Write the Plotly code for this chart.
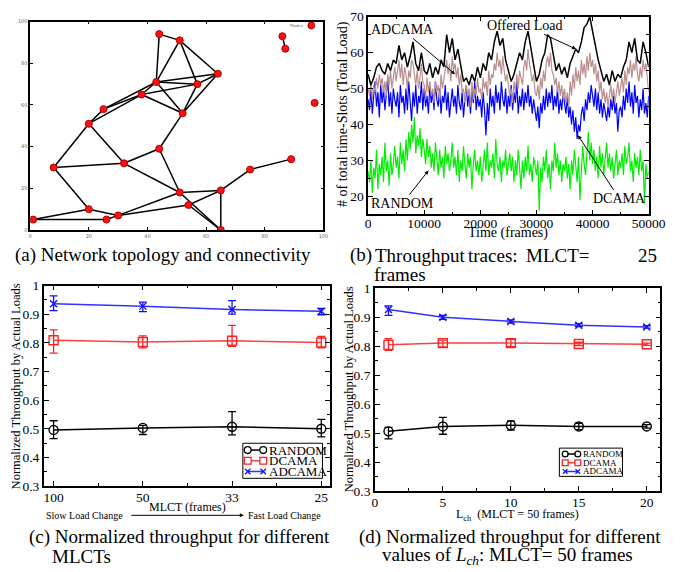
import plotly.graph_objects as go

# ---------------- (a) network topology ----------------
node_x = [1, 20, 26, 30, 8, 20, 25, 32, 38, 43, 44, 51, 57, 64, 52, 44, 51, 54, 65, 65, 75, 89, 86, 87, 97]
node_y = [5, 10, 5, 7, 30, 51, 58, 32, 65, 71, 94, 91, 70, 75, 56, 39, 18, 12, 19, 0, 29, 34, 93, 87, 61]
edges = [(0, 1), (0, 2), (1, 3), (2, 3), (1, 4), (4, 5), (4, 7), (5, 7), (5, 6), (5, 8), (6, 8), (6, 9),
         (7, 15), (7, 16), (15, 14), (15, 16), (8, 9), (8, 12), (8, 14), (9, 10), (9, 11), (9, 12), (9, 13),
         (9, 14), (10, 11), (11, 12), (11, 13), (12, 13), (12, 14), (13, 14), (16, 18), (16, 19), (17, 19),
         (3, 16), (3, 17), (17, 18), (18, 19), (18, 20), (20, 21), (22, 23)]

# ---------------- (b) throughput traces ----------------
time_black = [i * 500 for i in range(101)]
offered_load = [54, 51, 53, 56, 57, 55, 54, 57, 55, 58, 57, 62, 58, 60, 56, 59, 63, 57, 55, 60,
                55, 54, 57, 53, 56, 54, 58, 56, 65, 60, 64, 58, 61, 56, 52, 53, 51, 54, 52, 56,
                53, 57, 55, 60, 58, 63, 66, 62, 64, 58, 55, 52, 54, 57, 60, 58, 63, 66, 61, 56,
                52, 54, 58, 60, 65, 64, 59, 55, 57, 54, 56, 53, 57, 59, 61, 60, 63, 67, 68, 70,
                66, 61, 58, 55, 52, 54, 51, 55, 52, 54, 53, 56, 58, 63, 60, 64, 58, 57, 63, 60, 56]
time_fine = [i * 250 for i in range(201)]
adcama_tr = [50, 48, 52, 47, 51, 49, 53, 50, 54, 51, 53, 49, 52, 48, 54, 51, 55, 50, 53, 56,
             52, 55, 58, 53, 57, 51, 56, 54, 50, 55, 53, 58, 57, 54, 51, 55, 50, 53, 57, 52,
             51, 47, 53, 49, 52, 48, 50, 46, 52, 49, 51, 47, 54, 50, 53, 55, 58, 54, 57, 52,
             59, 55, 57, 53, 56, 51, 54, 49, 50, 46, 51, 48, 50, 45, 52, 47, 50, 48, 53, 49,
             50, 47, 53, 50, 52, 48, 55, 51, 54, 53, 57, 55, 60, 56, 58, 54, 59, 55, 52, 54,
             51, 48, 50, 46, 52, 49, 54, 50, 55, 53, 51, 56, 58, 55, 61, 57, 55, 52, 54, 49,
             48, 51, 47, 53, 50, 55, 52, 57, 59, 56, 60, 55, 54, 51, 53, 49, 52, 48, 51, 47,
             50, 46, 49, 45, 52, 48, 54, 50, 56, 52, 55, 51, 58, 54, 57, 53, 59, 55, 60, 56,
             58, 54, 57, 52, 55, 49, 52, 47, 50, 46, 49, 45, 48, 51, 47, 50, 46, 49, 52, 48,
             50, 53, 49, 55, 51, 56, 54, 58, 53, 57, 55, 59, 54, 52, 56, 53, 58, 55, 57, 52, 49]
dcama_tr = [47, 44, 50, 43, 48, 52, 45, 49, 42, 51, 46, 50, 44, 48, 53, 45, 49, 43, 50, 47,
            45, 49, 42, 51, 46, 48, 43, 50, 44, 52, 47, 41, 49, 45, 51, 43, 48, 46, 52, 44,
            50, 45, 48, 43, 51, 46, 49, 44, 52, 47, 45, 50, 43, 48, 46, 51, 44, 49, 42, 47,
            50, 45, 48, 43, 51, 46, 44, 49, 42, 47, 51, 45, 49, 43, 50, 46, 52, 44, 48, 45,
            47, 42, 49, 44, 37, 46, 41, 50, 45, 48, 43, 51, 46, 49, 44, 52, 47, 45, 50, 43,
            48, 45, 51, 44, 49, 46, 52, 43, 48, 45, 50, 44, 49, 46, 51, 45, 48, 43, 47, 44,
            41, 45, 39, 46, 43, 48, 44, 50, 45, 49, 46, 51, 44, 48, 45, 50, 43, 47, 44, 49,
            46, 43, 48, 42, 45, 40, 44, 38, 42, 36, 40, 38, 43, 45, 41, 47, 44, 49, 46, 51,
            48, 45, 50, 44, 49, 43, 47, 42, 46, 44, 41, 45, 42, 47, 44, 48, 43, 46, 38, 44,
            45, 42, 48, 44, 50, 46, 52, 45, 49, 43, 51, 46, 48, 42, 47, 44, 50, 43, 46, 42, 48]
random_tr = [27, 24, 30, 21, 28, 25, 33, 22, 29, 26, 31, 24, 35, 27, 30, 23, 32, 26, 29, 34,
             28, 31, 25, 35, 29, 33, 27, 36, 30, 38, 33, 40, 35, 42, 32, 37, 34, 39, 31, 36,
             33, 29, 36, 31, 34, 28, 32, 27, 35, 30, 26, 33, 28, 31, 25, 34, 29, 32, 27, 30,
             35, 28, 31, 26, 33, 24, 30, 27, 34, 29, 25, 32, 28, 31, 22, 29, 33, 27, 30, 26,
             31, 24, 29, 33, 27, 35, 26, 30, 28, 32, 25, 36, 29, 27, 31, 24, 30, 28, 33, 26,
             29, 32, 27, 31, 24, 30, 26, 33, 28, 22, 30, 25, 31, 27, 34, 26, 29, 24, 31, 28,
             26, 30, 16, 28, 24, 31, 27, 33, 25, 29, 22, 30, 27, 35, 28, 32, 26, 30, 24, 29,
             27, 31, 25, 29, 22, 30, 26, 33, 28, 24, 31, 19, 27, 34, 29, 26, 32, 38, 30, 35,
             29, 33, 27, 31, 25, 34, 28, 32, 26, 30, 35, 28, 32, 27, 31, 25, 29, 33, 26, 30,
             28, 32, 26, 34, 29, 31, 35, 27, 30, 24, 32, 28, 31, 26, 33, 27, 30, 18, 29, 25, 27]

# ---------------- (c) MLCT ----------------
mlct_labels = ["100", "50", "33", "25"]
mlct_pos = [1, 2, 3, 4]
c_random = [0.496, 0.503, 0.507, 0.500]
c_random_hi = [0.528, 0.512, 0.560, 0.533]
c_random_lo = [0.466, 0.480, 0.479, 0.472]
c_dcama = [0.809, 0.803, 0.807, 0.801]
c_dcama_hi = [0.845, 0.824, 0.861, 0.822]
c_dcama_lo = [0.764, 0.782, 0.788, 0.782]
c_adcama = [0.936, 0.928, 0.916, 0.910]
c_adcama_hi = [0.964, 0.942, 0.947, 0.920]
c_adcama_lo = [0.912, 0.909, 0.900, 0.898]

# ---------------- (d) Lch ----------------
lch = [1, 5, 10, 15, 20]
d_random = [0.506, 0.523, 0.527, 0.523, 0.523]
d_random_hi = [0.520, 0.554, 0.542, 0.534, 0.529]
d_random_lo = [0.480, 0.496, 0.510, 0.512, 0.517]
d_dcama = [0.805, 0.811, 0.811, 0.808, 0.807]
d_dcama_hi = [0.826, 0.821, 0.824, 0.814, 0.811]
d_dcama_lo = [0.786, 0.798, 0.799, 0.802, 0.803]
d_adcama = [0.927, 0.900, 0.886, 0.873, 0.867]
d_adcama_hi = [0.940, 0.907, 0.891, 0.878, 0.871]
d_adcama_lo = [0.907, 0.893, 0.880, 0.868, 0.863]

series_names = ["RANDOM", "DCAMA", "ADCAMA"]

SERIF = "Liberation Serif, Times New Roman, serif"
W, H = 689, 572


def px(x):
    return x / W


def py(y):
    return (H - y) / H


fig = go.Figure()

# (a) edges and nodes
ex, ey = [], []
for a, b in edges:
    ex += [node_x[a], node_x[b], None]
    ey += [node_y[a], node_y[b], None]
fig.add_trace(go.Scatter(x=ex, y=ey, mode="lines", line=dict(color="black", width=1.5),
                         xaxis="x", yaxis="y", showlegend=False, hoverinfo="skip"))
fig.add_trace(go.Scatter(x=node_x, y=node_y, mode="markers",
                         marker=dict(color="#ff1010", size=7, line=dict(color="#b00000", width=1)),
                         xaxis="x", yaxis="y", showlegend=False))

# (b) traces
fig.add_trace(go.Scatter(x=time_fine, y=random_tr, mode="lines", line=dict(color="#00ee00", width=1.2),
                         xaxis="x2", yaxis="y2", showlegend=False))
fig.add_trace(go.Scatter(x=time_fine, y=dcama_tr, mode="lines", line=dict(color="#0000ff", width=1.2),
                         xaxis="x2", yaxis="y2", showlegend=False))
fig.add_trace(go.Scatter(x=time_fine, y=adcama_tr, mode="lines", line=dict(color="#bc8f8f", width=1.2),
                         xaxis="x2", yaxis="y2", showlegend=False))
fig.add_trace(go.Scatter(x=time_black, y=offered_load, mode="lines", line=dict(color="black", width=1.5),
                         xaxis="x2", yaxis="y2", showlegend=False))


def err(y, hi, lo, color):
    return dict(type="data", symmetric=False,
                array=[h - v for h, v in zip(hi, y)],
                arrayminus=[v - l for v, l in zip(y, lo)],
                thickness=1.3, width=4, color=color)


line_cols = ["black", "#ff4040", "#3030ff"]
mark_cols = ["black", "#ff2020", "#1010ff"]
symbols = ["circle-open", "square-open", "x-thin-open"]
msizes = [9, 9, 7]

c_data = [(c_random, c_random_hi, c_random_lo), (c_dcama, c_dcama_hi, c_dcama_lo), (c_adcama, c_adcama_hi, c_adcama_lo)]
d_data = [(d_random, d_random_hi, d_random_lo), (d_dcama, d_dcama_hi, d_dcama_lo), (d_adcama, d_adcama_hi, d_adcama_lo)]

for i, (y, hi, lo) in enumerate(c_data):
    fig.add_trace(go.Scatter(x=mlct_pos, y=y, name=series_names[i], mode="lines+markers",
                             line=dict(color=line_cols[i], width=1.5),
                             marker=dict(symbol=symbols[i], size=msizes[i], color=mark_cols[i],
                                         line=dict(width=1.4, color=mark_cols[i])),
                             error_y=err(y, hi, lo, mark_cols[i]),
                             xaxis="x3", yaxis="y3", showlegend=False))
for i, (y, hi, lo) in enumerate(d_data):
    fig.add_trace(go.Scatter(x=lch, y=y, name=series_names[i], mode="lines+markers",
                             line=dict(color=line_cols[i], width=1.5),
                             marker=dict(symbol=symbols[i], size=msizes[i], color=mark_cols[i],
                                         line=dict(width=1.4, color=mark_cols[i])),
                             error_y=err(y, hi, lo, mark_cols[i]),
                             xaxis="x4", yaxis="y4", showlegend=False))

axis_common = dict(showline=True, linecolor="black", linewidth=1.5, mirror="ticks", ticks="inside",
                   tickcolor="black", ticklen=5, tickwidth=1, showgrid=False, zeroline=False,
                   tickfont=dict(family=SERIF, size=13.5, color="black"))

small_axis = dict(axis_common)
small_axis.update(tickfont=dict(family="DejaVu Sans", size=5, color="#666666"), ticklen=3, linewidth=1.5)

fig.update_layout(
    width=W, height=H, margin=dict(l=0, r=0, t=0, b=0),
    paper_bgcolor="white", plot_bgcolor="white", showlegend=False,
    xaxis=dict(small_axis, domain=[px(28), px(330)], range=[0, 100], dtick=20, anchor="y"),
    yaxis=dict(small_axis, domain=[py(229), py(15)], range=[0, 100], dtick=20, anchor="x"),
    xaxis2=dict(axis_common, domain=[px(376), px(665)], range=[0, 50000], dtick=10000, anchor="y2",
                tickformat="d", ticklabelstandoff=-4,
                minor=dict(ticks="inside", ticklen=3, dtick=5000, tickcolor="black")),
    yaxis2=dict(axis_common, domain=[py(213), py(10)], range=[15, 70], dtick=10, anchor="x2",
                minor=dict(ticks="inside", ticklen=3, dtick=5, tickcolor="black")),
    xaxis3=dict(axis_common, domain=[px(42), px(337)], range=[0.89, 4.1], tickvals=mlct_pos,
                ticktext=mlct_labels, anchor="y3", ticklabelstandoff=-2,
                minor=dict(ticks="inside", ticklen=3, tickvals=[1.5, 2.5, 3.5], tickcolor="black")),
    yaxis3=dict(axis_common, domain=[py(492), py(286)], range=[0.3, 1.0], dtick=0.1, anchor="x3",
                tickformat=".1~f", minor=dict(ticks="inside", ticklen=3, dtick=0.05, tickcolor="black")),
    xaxis4=dict(axis_common, domain=[px(383), px(677)], range=[0, 21], dtick=5, anchor="y4",
                ticklabelstandoff=-2,
                minor=dict(ticks="inside", ticklen=3, dtick=2.5, tickcolor="black")),
    yaxis4=dict(axis_common, domain=[py(497), py(289)], range=[0.3, 1.0], dtick=0.1, anchor="x4",
                tickformat=".1~f", minor=dict(ticks="inside", ticklen=3, dtick=0.05, tickcolor="black")),
)

ann = []
shapes = []


def text(t, x, y, size, xanchor="center", angle=0, color="black", family=SERIF):
    ann.append(dict(text=t, x=px(x), y=py(y), xref="paper", yref="paper", xanchor=xanchor,
                    yanchor="middle", showarrow=False, textangle=angle,
                    font=dict(family=family, size=size, color=color)))


# (a) "Nodes" legend
text("Nodes", 302, 19, 5, color="#555555")
shapes.append(dict(type="circle", xref="paper", yref="paper", x0=px(314), x1=px(321), y0=py(22.5), y1=py(15.5),
                   fillcolor="#ff1010", line=dict(color="#b00000", width=1)))

# (b) labels with arrows
for t, tx, ty, hx, hy in [("ADCAMA", 6100, 66.5, 15500, 54), ("Offered Load", 27900, 67.6, 37050, 61),
                          ("RANDOM", 6100, 18, 10750, 27.2), ("DCAMA", 44800, 19.3, 37400, 37)]:
    ann.append(dict(text=t, x=hx, y=hy, ax=tx, ay=ty, xref="x2", yref="y2", axref="x2", ayref="y2",
                    showarrow=True, arrowhead=2, arrowsize=0.8, arrowwidth=1, arrowcolor="black",
                    font=dict(family=SERIF, size=14, color="black")))

# axis titles
text("# of total time-Slots (Total Load)", 350, 110, 14, angle=-90)
text("Time (frames)", 520, 232, 14)
text("Normalized Throughput by Actual Loads", 13, 390, 12.5, angle=-90)
text("Normalized Throughput by Actual Loads", 356, 393, 12.5, angle=-90)
text("MLCT (frames)", 190, 513, 12)
text("Slow Load Change", 84, 522, 10)
text("Fast Load Change", 290, 522, 10)
ann.append(dict(text="", x=px(248), y=py(522), xref="paper", yref="paper", ax=-114, ay=0,
                showarrow=True, arrowhead=2, arrowsize=0.8, arrowwidth=1, arrowcolor="black"))
text("L<sub>ch</sub>  (MLCT = 50 frames)", 530, 522, 12)


# manual legends for (c) and (d)
def legend(box, rows, seg, tx, fsize, r):
    x0, y0, x1, y1 = box
    shapes.append(dict(type="rect", xref="paper", yref="paper", x0=px(x0), x1=px(x1), y0=py(y1), y1=py(y0),
                       line=dict(color="black", width=1), fillcolor="white"))
    for i, yy in enumerate(rows):
        c = mark_cols[i]
        shapes.append(dict(type="line", xref="paper", yref="paper", x0=px(seg[0]), x1=px(seg[1]),
                           y0=py(yy), y1=py(yy), line=dict(color=line_cols[i], width=1.5)))
        for cx in seg:
            if i == 0:
                shapes.append(dict(type="circle", xref="paper", yref="paper", x0=px(cx - r), x1=px(cx + r),
                                   y0=py(yy + r), y1=py(yy - r), line=dict(color=c, width=1.3),
                                   fillcolor="white"))
            elif i == 1:
                shapes.append(dict(type="rect", xref="paper", yref="paper", x0=px(cx - r), x1=px(cx + r),
                                   y0=py(yy + r), y1=py(yy - r), line=dict(color=c, width=1.3),
                                   fillcolor="white"))
            else:
                rr = r * 0.8
                shapes.append(dict(type="line", xref="paper", yref="paper", x0=px(cx - rr), x1=px(cx + rr),
                                   y0=py(yy - rr), y1=py(yy + rr), line=dict(color=c, width=1.3)))
                shapes.append(dict(type="line", xref="paper", yref="paper", x0=px(cx - rr), x1=px(cx + rr),
                                   y0=py(yy + rr), y1=py(yy - rr), line=dict(color=c, width=1.3)))
        text(series_names[i], tx, yy, fsize, xanchor="left")


legend((247, 448, 329, 484), [455, 466, 477], (252, 268), 272, 13, 3.5)
legend((573, 453, 638, 482), [459, 468, 477], (579, 592), 595, 9, 3)

# captions
CAP = 19
for t, x, y in [("(a) Network topology and connectivity", 10, 255),
                ("(b)", 355, 255), ("Throughput", 381, 255), ("traces:", 477, 255), ("MLCT=", 537, 255),
                ("25", 652, 255), ("frames", 380, 275),
                ("(c) Normalized throughput for different", 25, 544), ("MLCTs", 48, 564),
                ("(d) Normalized throughput for different", 365, 544),
                ("values of <i>L<sub>ch</sub></i>: MLCT= 50 frames", 388, 564)]:
    text(t, x, y, CAP, xanchor="left")

fig.update_layout(annotations=ann, shapes=shapes)
fig.write_html("out.html", post_script="document.body.style.margin='0px';document.body.style.padding='0px';",
               config={"displayModeBar": False})
